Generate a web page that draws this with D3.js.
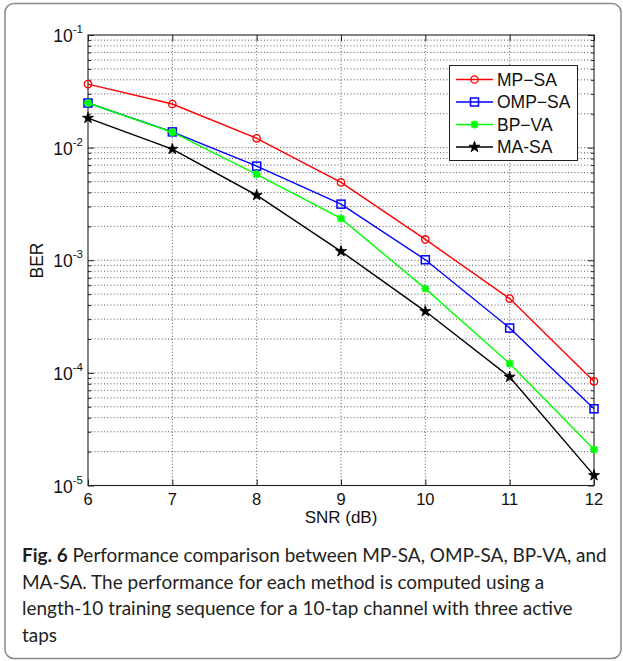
<!DOCTYPE html>
<html>
<head>
<meta charset="utf-8">
<script src="https://cdn.jsdelivr.net/npm/d3@7"></script>
<style>
  body { margin: 0; background: #fff; }
  svg { display: block; }
</style>
</head>
<body>
<svg id="chart" width="623" height="661"></svg>
<script>
// values
let snr = [6, 7, 8, 9, 10, 11, 12]
let mpSA  = [0.0366, 0.0244, 0.0121, 0.00491, 0.00153, 0.000457, 0.000084]
let ompSA = [0.0249, 0.0138, 0.00685, 0.00315, 0.00101, 0.00025, 0.000048]
let bpVA  = [0.0249, 0.0137, 0.0058, 0.00235, 0.00056, 0.000121, 0.0000209]
let maSA  = [0.0183, 0.0097, 0.00378, 0.0012, 0.000352, 0.000092, 0.0000123]
let seriesNames = ['MP\u2212SA', 'OMP\u2212SA', 'BP\u2212VA', 'MA-SA']
let seriesColors = ['#ff0000', '#0000ff', '#00ff00', '#000000']
let seriesMarkers = ['circle', 'square', 'asterisk', 'star']
let yDecades = [1e-5, 1e-4, 1e-3, 1e-2, 1e-1]
let captionLines = [
  ['Fig. 6', ' Performance comparison between MP-SA, OMP-SA, BP-VA, and'],
  ['', 'MA-SA. The performance for each method is computed using a'],
  ['', 'length-10 training sequence for a 10-tap channel with three active'],
  ['', 'taps']
]

let series = [mpSA, ompSA, bpVA, maSA]

let svg = d3.select('#chart')

// outer frame
svg.append('rect')
  .attr('x', 5).attr('y', 3.5)
  .attr('width', 616).attr('height', 655)
  .attr('rx', 9)
  .attr('fill', 'none')
  .attr('stroke', '#8a8a8a')
  .attr('stroke-width', 1.5)

let pLeft = 88, pRight = 594, pTop = 35, pBottom = 485.5
let x = d3.scaleLinear().domain([6, 12]).range([pLeft, pRight])
let y = d3.scaleLog().domain([1e-5, 1e-1]).range([pBottom, pTop])

let g = svg.append('g')

// minor values for log grid
let minorVals = []
for (let d = 0; d < yDecades.length - 1; d++) {
  for (let k = 2; k <= 9; k++) minorVals.push(yDecades[d] * k)
}

let gridStyle = sel => sel
  .attr('stroke', '#444')
  .attr('stroke-width', 0.9)
  .attr('stroke-dasharray', '1,2.2')

// vertical grid
g.selectAll('.vgrid').data(snr.slice(1, -1)).enter().append('line')
  .attr('x1', d => x(d)).attr('x2', d => x(d))
  .attr('y1', pTop).attr('y2', pBottom)
  .call(gridStyle)

// horizontal grid (major + minor)
g.selectAll('.hgrid').data(yDecades.slice(1, -1).concat(minorVals)).enter().append('line')
  .attr('x1', pLeft).attr('x2', pRight)
  .attr('y1', d => y(d)).attr('y2', d => y(d))
  .call(gridStyle)

// axes with inward ticks
let axisColor = '#222'
let xb = g.append('g').attr('transform', `translate(0,${pBottom})`)
  .call(d3.axisBottom(x).tickValues(snr).tickSizeInner(-6).tickSizeOuter(0).tickFormat(''))
let xt = g.append('g').attr('transform', `translate(0,${pTop})`)
  .call(d3.axisTop(x).tickValues(snr).tickSizeInner(-6).tickSizeOuter(0).tickFormat(''))
let yl = g.append('g').attr('transform', `translate(${pLeft},0)`)
  .call(d3.axisLeft(y).tickValues(yDecades).tickSizeInner(-6).tickSizeOuter(0).tickFormat(''))
let yr = g.append('g').attr('transform', `translate(${pRight},0)`)
  .call(d3.axisRight(y).tickValues(yDecades).tickSizeInner(-6).tickSizeOuter(0).tickFormat(''))
let ylm = g.append('g').attr('transform', `translate(${pLeft},0)`)
  .call(d3.axisLeft(y).tickValues(minorVals).tickSizeInner(-3).tickSizeOuter(0).tickFormat(''))
let yrm = g.append('g').attr('transform', `translate(${pRight},0)`)
  .call(d3.axisRight(y).tickValues(minorVals).tickSizeInner(-3).tickSizeOuter(0).tickFormat(''))
;[xb, xt, yl, yr, ylm, yrm].forEach(a => {
  a.select('.domain').remove()
  a.selectAll('line').attr('stroke', axisColor)
})

g.append('rect')
  .attr('x', pLeft).attr('y', pTop)
  .attr('width', pRight - pLeft).attr('height', pBottom - pTop)
  .attr('fill', 'none').attr('stroke', axisColor).attr('stroke-width', 1.1)

let font = 'Liberation Sans, Arial, sans-serif'

// x tick labels
g.selectAll('.xlab').data(snr).enter().append('text')
  .attr('x', d => x(d)).attr('y', 505)
  .attr('text-anchor', 'middle')
  .attr('font-family', font).attr('font-size', 16.5)
  .attr('fill', '#111')
  .text(d => d)

// y tick labels 10^n
yDecades.forEach(v => {
  let t = g.append('text')
    .attr('font-family', font).attr('fill', '#111')
    .attr('text-anchor', 'end')
    .attr('x', 83).attr('y', y(v) + 7)
  t.append('tspan').attr('font-size', 17.5).text('10')
  t.append('tspan').attr('font-size', 11.5).attr('dy', -9)
    .text(Math.round(Math.log10(v)).toString())
})

// axis titles
g.append('text')
  .attr('x', (pLeft + pRight) / 2).attr('y', 523)
  .attr('text-anchor', 'middle')
  .attr('font-family', font).attr('font-size', 17).attr('fill', '#111')
  .text('SNR (dB)')
g.append('text')
  .attr('transform', 'translate(42.5,260.5) rotate(-90)')
  .attr('text-anchor', 'middle')
  .attr('font-family', font).attr('font-size', 17.5).attr('fill', '#111')
  .text('BER')

// markers
let drawMarker = (sel, type, color) => {
  if (type === 'circle') {
    sel.append('circle').attr('r', 3.7)
      .attr('fill', 'none').attr('stroke', color).attr('stroke-width', 1.3)
  } else if (type === 'square') {
    sel.append('rect').attr('x', -4).attr('y', -4).attr('width', 8).attr('height', 8)
      .attr('fill', 'none').attr('stroke', color).attr('stroke-width', 1.5)
  } else if (type === 'asterisk') {
    sel.append('path')
      .attr('d', 'M-4,0H4M0,-4V4M-3,-3L3,3M-3,3L3,-3')
      .attr('stroke', color).attr('stroke-width', 2)
  } else {
    sel.append('path').attr('d', d3.symbol(d3.symbolStar, 38)())
      .attr('fill', color).attr('stroke', color).attr('stroke-width', 0.8)
  }
}

let line = d3.line().x((d, i) => x(snr[i])).y(d => y(d))

series.forEach((s, k) => {
  g.append('path').datum(s)
    .attr('d', line)
    .attr('fill', 'none')
    .attr('stroke', seriesColors[k])
    .attr('stroke-width', 1.4)
  s.forEach((v, i) => {
    let m = g.append('g').attr('transform', `translate(${x(snr[i])},${y(v)})`)
    drawMarker(m, seriesMarkers[k], seriesColors[k])
  })
})

// legend
let lg = g.append('g')
lg.append('rect')
  .attr('x', 449.5).attr('y', 65.5)
  .attr('width', 128).attr('height', 95)
  .attr('fill', '#fff').attr('stroke', axisColor).attr('stroke-width', 1)
let rowY = [79.5, 102, 124.5, 147]
seriesNames.forEach((name, k) => {
  lg.append('line')
    .attr('x1', 456).attr('x2', 493)
    .attr('y1', rowY[k]).attr('y2', rowY[k])
    .attr('stroke', seriesColors[k]).attr('stroke-width', 1.4)
  let m = lg.append('g').attr('transform', `translate(474.5,${rowY[k]})`)
  drawMarker(m, seriesMarkers[k], seriesColors[k])
  lg.append('text')
    .attr('x', 497).attr('y', rowY[k] + 6)
    .attr('font-family', font).attr('font-size', 17.5).attr('fill', '#111')
    .text(name)
})

// caption: size the font so the first line spans the width seen in the picture
let capFont = 'Lato, Open Sans, sans-serif'
let capBase = [562, 588.5, 615, 641.5]
let capTexts = captionLines.map((parts, i) => {
  let t = svg.append('text')
    .attr('x', 22).attr('y', capBase[i])
    .attr('font-family', capFont).attr('font-size', 20)
    .attr('fill', '#231f20')
  if (parts[0]) t.append('tspan').attr('font-weight', 'bold').text(parts[0])
  t.append('tspan').text(parts[1])
  return t
})
let w1 = capTexts[0].node().getComputedTextLength()
let fs = Math.min(20.5, 20 * 585 / w1)
capTexts.forEach(t => t.attr('font-size', fs))
</script>
</body>
</html>
